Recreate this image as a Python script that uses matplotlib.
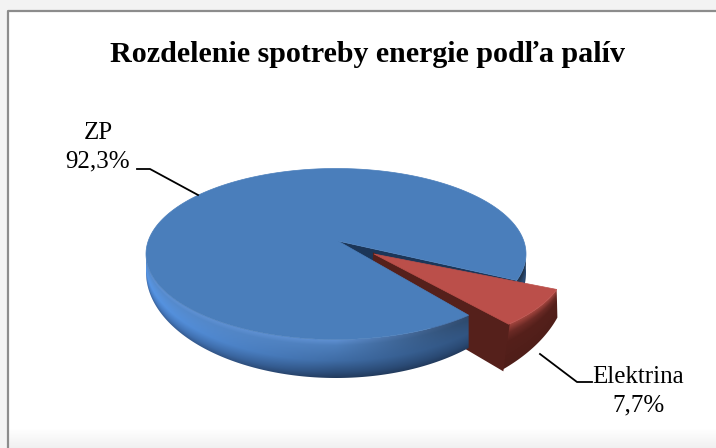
import matplotlib
matplotlib.use("Agg")
import matplotlib.pyplot as plt
import numpy as np
from matplotlib.patches import Polygon, Rectangle

labels = ["ZP", "Elektrina"]
values = [92.3, 7.7]
label_text = ["92,3%", "7,7%"]
title = "Rozdelenie spotreby energie podľa palív"

plt.rcParams["font.family"] = ["Liberation Serif", "DejaVu Serif"]

fig = plt.figure(figsize=(7.16, 4.48), dpi=100)
ax = fig.add_axes([0, 0, 1, 1])


def hex2rgb(c):
    return np.array(matplotlib.colors.to_rgb(c))


def rim(e, deg):
    # e = cx, cy, rx, ry; deg goes clockwise on screen, y axis points down
    a = np.radians(deg)
    return np.column_stack([e[0] + e[2] * np.cos(a), e[1] + e[3] * np.sin(a)])


def side(e_top, e_bot, t0, t1, stops, zorder=2, fade=0.7, dark=0.7):
    top = rim(e_top, np.linspace(t0, t1, 120))
    bot = rim(e_bot, np.linspace(t1, t0, 120))
    pts = np.vstack([top, bot])
    x0, x1 = int(pts[:, 0].min()) - 2, int(pts[:, 0].max()) + 3
    y0, y1 = int(pts[:, 1].min()) - 2, int(pts[:, 1].max()) + 3
    xs, ys = np.meshgrid(np.arange(x0, x1) + 0.5, np.arange(y0, y1) + 0.5)
    u = np.clip((xs - e_top[0]) / e_top[2], -1, 1)
    v = np.clip((xs - e_bot[0]) / e_bot[2], -1, 1)
    y_top = e_top[1] + e_top[3] * np.sqrt(1 - u ** 2)
    y_bot = e_bot[1] + e_bot[3] * np.sqrt(1 - v ** 2)
    d = np.clip((ys - y_top) / np.maximum(y_bot - y_top, 8), 0, 1)
    pos = [s[0] for s in stops]
    cols = np.array([hex2rgb(s[1]) for s in stops])
    img = np.stack([np.interp(d, pos, cols[:, i]) for i in range(3)], axis=-1)
    # lit from the left, dark on the right
    k = 1 + fade * np.clip(-u, 0, 1) * d - dark * np.clip(u, 0, 1) * (1 - d)
    img = np.clip(img * k[..., None], 0, 1)
    im = ax.imshow(img, extent=(x0, x1, y1, y0), aspect="auto", interpolation="bilinear", zorder=zorder)
    im.set_clip_path(Polygon(pts, closed=True, transform=ax.transData))


# frame of the chart area
ax.add_patch(Rectangle((0, 0), 716, 448, fc="#f3f3f3", ec="none", zorder=0))
ax.add_patch(Rectangle((9, 12), 707, 436, fc="white", ec="none", zorder=0))
fade_img = np.linspace(1, 0.945, 20)[:, None, None] * np.ones((20, 1, 3))
ax.imshow(fade_img, extent=(9, 716, 448, 428), aspect="auto", zorder=0.5, vmin=0, vmax=1)
ax.plot([8, 8, 716], [448, 11.5, 11.5], color="#8c8c8c", lw=1.6, zorder=1)

# pie geometry
sweep = values[1] / sum(values) * 360
start = 18
end = start + sweep
blue_top = (336, 254, 190, 85.5)
blue_bot = (336, 272, 190, 106)
apex = (338, 241)
red_top = (376, 263, 190, 85.5)
red_bot = (351, 278, 217, 128)
rapex = (374, 254)
depth = 40

blue_stops = [(0, "#6091d3"), (0.15, "#4e7fbc"), (0.55, "#3f6ca5"), (0.85, "#2c4d79"), (1, "#223a5c")]
red_stops = [(0, "#a5463f"), (0.2, "#6b2a25"), (0.4, "#55201b"), (1, "#4f1e19")]

# back wall of the notch in the blue slice
p = rim(blue_top, [start])[0]
ax.add_patch(Polygon([apex, p, (p[0], p[1] + depth), (apex[0], apex[1] + depth)], fc="#1c3658", ec="none", zorder=2))
side(blue_top, blue_bot, -2, start, blue_stops, zorder=2.1)

# red slice walls go under the blue top
q = rim(red_top, [end])[0]
q2 = rim(red_bot, [end])[0]
side(red_top, red_bot, start, end, red_stops, zorder=2.2, fade=0, dark=0)
ax.add_patch(Polygon([rapex, q, q2, (rapex[0], rapex[1] + depth)], fc="#55201b", ec="#55201b", lw=1.5, zorder=2.3))

# blue slice
side(blue_top, blue_bot, end, 180, blue_stops, zorder=3)
arc = rim(blue_top, np.linspace(end, start + 360, 300))
ax.add_patch(Polygon(np.vstack([[apex], arc]), fc="#4a7ebb", ec="#4a7ebb", lw=0.5, zorder=4))

# red top
arc = rim(red_top, np.linspace(start, end, 40))
ax.add_patch(Polygon(np.vstack([[rapex], arc]), fc="#bb4f4a", ec="#bb4f4a", lw=0.5, zorder=5))

# leader lines
ax.plot([137, 150, 198], [169, 169, 195], color="black", lw=1.3, zorder=6)
ax.plot([540, 577, 592], [354, 382, 382], color="black", lw=1.3, zorder=6)

ax.text(368, 55, title, ha="center", va="center", fontsize=21.6, fontweight="bold", color="black", zorder=7)
ax.text(98, 147, labels[0] + "\n" + label_text[0], ha="center", va="center", fontsize=18, linespacing=1.38, zorder=7)
ax.text(638, 391, labels[1] + "\n" + label_text[1], ha="center", va="center", fontsize=18, linespacing=1.38, zorder=7)

ax.set_xlim(0, 716)
ax.set_ylim(448, 0)
ax.axis("off")
fig.savefig("out.png", dpi=100)
